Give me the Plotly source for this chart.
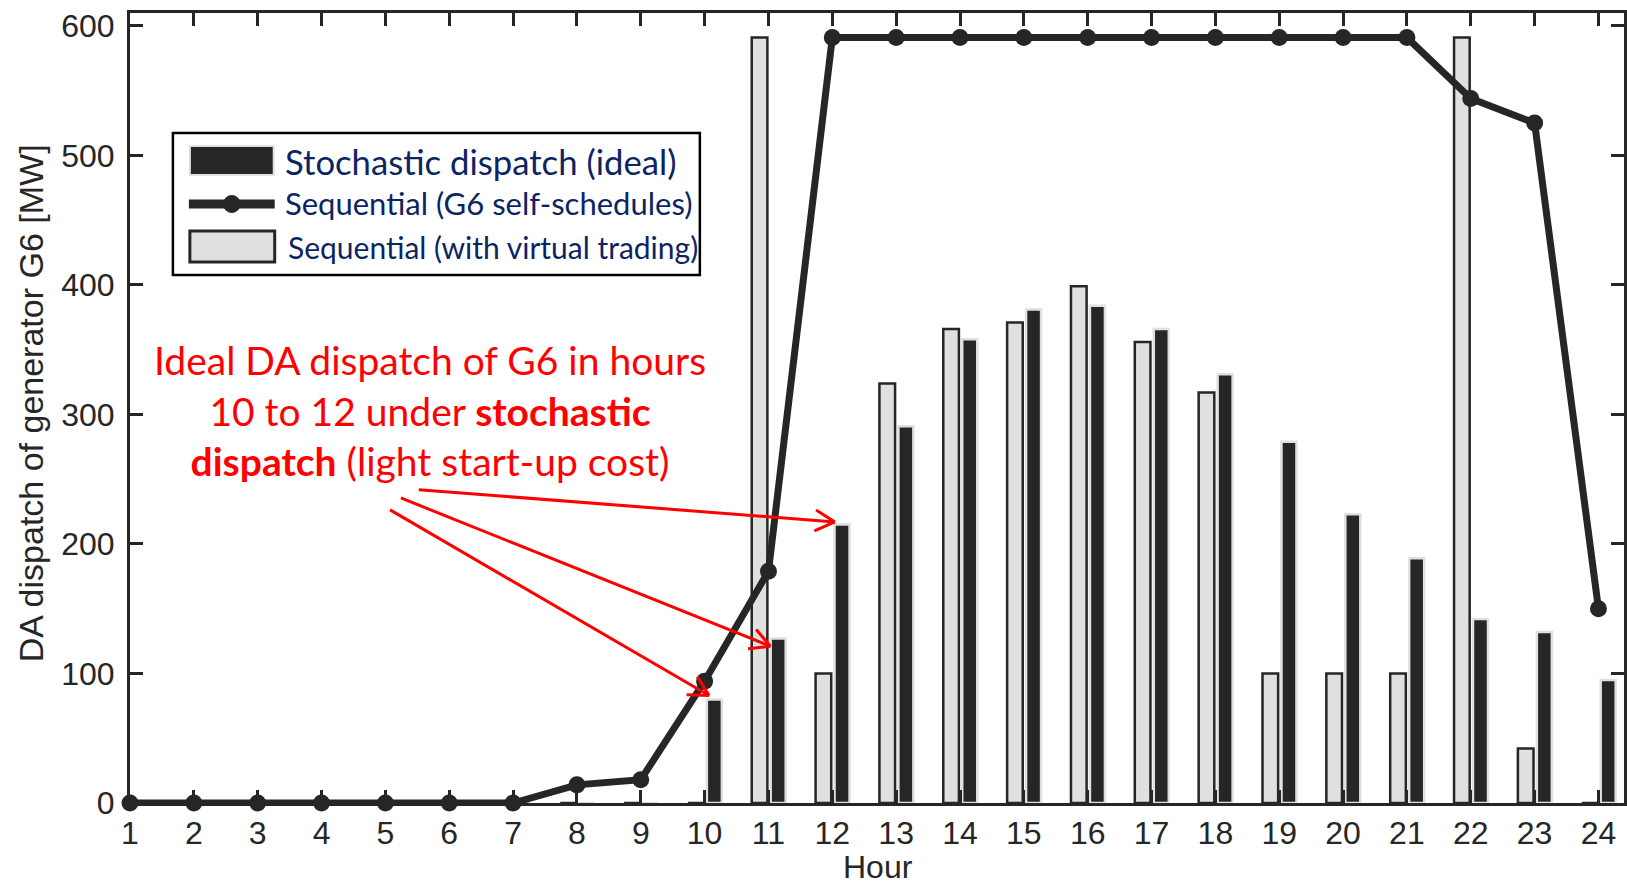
import math
import plotly.graph_objects as go

# ---------------- data ----------------
hours = list(range(1, 25))
stochastic_ideal = [0, 0, 0, 0, 0, 0, 0, 0, 0, 80, 127, 215, 291, 358, 381, 384, 366, 331, 279, 223, 189, 142, 132, 95]
seq_self_sched = [0, 0, 0, 0, 0, 0, 0, 14, 18, 94, 179, 591, 591, 591, 591, 591, 591, 591, 591, 591, 591, 544, 525, 150]
seq_virtual = [0, 0, 0, 0, 0, 0, 0, 0, 0, 0, 591, 100, 324, 366, 371, 399, 356, 317, 100, 100, 100, 591, 42, 0]
y_ticks = [0, 100, 200, 300, 400, 500, 600]

legend_labels = ["Stochastic dispatch (ideal)", "Sequential (G6 self-schedules)", "Sequential (with virtual trading)"]
note_text = "Ideal DA dispatch of G6 in hours<br>10 to 12 under <b>stochastic</b><br><b>dispatch</b> (light start-up cost)"
# arrow (start hour, start MW) -> (tip hour, tip MW)
arrows = [((5.50, 242), (12.04, 217)), ((5.22, 236), (11.03, 121)), ((5.05, 227), (10.07, 83))]

# ---------------- layout geometry ----------------
FW, FH = 1627, 885
L, R, T, B = 130, 0, 13, 82
W = FW - L - R
H = FH - T - B
XR = [1, 24.4]
YR = [0, 610]
DARK = "#262626"
LIGHT = "#e0e0e0"
NAVY = "#0d2463"

def px_x(px):
    return (px - L) / W

def px_y(py):
    return (T + H - py) / H

ppx = W / (XR[1] - XR[0])
ppy = H / (YR[1] - YR[0])

fig = go.Figure()

fig.add_trace(go.Scatter(
    x=hours, y=seq_self_sched, mode="lines+markers",
    line=dict(color=DARK, width=7), marker=dict(color=DARK, size=17),
    cliponaxis=False, showlegend=False, name=legend_labels[1]))

fig.add_trace(go.Bar(
    x=hours, y=seq_virtual, offset=-0.262, width=0.245,
    marker=dict(color=LIGHT, line=dict(color=DARK, width=2.5)),
    showlegend=False, name=legend_labels[2]))

fig.add_trace(go.Bar(
    x=hours, y=stochastic_ideal, offset=0.035, width=0.235,
    marker=dict(color=DARK, line=dict(color=LIGHT, width=2.5)),
    showlegend=False, name=legend_labels[0]))

axis_common = dict(showline=True, linewidth=3, linecolor=DARK, mirror="ticks",
                   ticks="inside", ticklen=13, tickwidth=3, tickcolor=DARK,
                   showgrid=False, zeroline=False,
                   tickfont=dict(family="Liberation Sans", size=32, color=DARK))

fig.update_layout(
    width=FW, height=FH,
    margin=dict(l=L, r=R, t=T, b=B),
    paper_bgcolor="white", plot_bgcolor="white",
    barmode="overlay",
    xaxis=dict(range=XR, tickmode="array", tickvals=hours, ticktext=[str(h) for h in hours],
               ticklabelstandoff=0, **axis_common),
    yaxis=dict(range=YR, tickmode="array", tickvals=y_ticks, ticktext=[str(v) for v in y_ticks],
               ticklabelstandoff=6, **axis_common),
)

# axis titles
fig.add_annotation(text="Hour", xref="paper", yref="paper", x=px_x(880), y=px_y(867),
                   showarrow=False, font=dict(family="Liberation Sans", size=32, color=DARK),
                   xanchor="center", yanchor="middle")
fig.add_annotation(text="DA dispatch of generator G6 [MW]", xref="paper", yref="paper",
                   x=px_x(31), y=px_y(403), textangle=-90, showarrow=False,
                   font=dict(family="Liberation Sans", size=34, color=DARK),
                   xanchor="center", yanchor="middle")

# red note
fig.add_annotation(text=note_text, xref="paper", yref="paper", x=px_x(431), y=px_y(410),
                   showarrow=False, align="center", xanchor="center", yanchor="middle",
                   font=dict(family="Lato", size=39, color="#ff0000"))

# arrows
for (sx, sy), (tx, ty) in arrows:
    fig.add_annotation(x=tx, y=ty, ax=sx, ay=sy, xref="x", yref="y", axref="x", ayref="y",
                       text="", showarrow=True, arrowhead=0, arrowwidth=3, arrowcolor="#ff0000",
                       standoff=0, startstandoff=0)
    dx = (sx - tx) * ppx
    dy = -(sy - ty) * ppy
    n = math.hypot(dx, dy)
    ux, uy = dx / n, dy / n
    for ang in (28, -28):
        a = math.radians(ang)
        wx = ux * math.cos(a) - uy * math.sin(a)
        wy = ux * math.sin(a) + uy * math.cos(a)
        fig.add_annotation(x=tx, y=ty, ax=wx * 24, ay=wy * 24, xref="x", yref="y",
                           text="", showarrow=True, arrowhead=0, arrowwidth=3,
                           arrowcolor="#ff0000", standoff=0, startstandoff=0)

# custom legend
shapes = []
shapes.append(dict(type="rect", xref="paper", yref="paper", x0=px_x(173), x1=px_x(701),
                   y0=px_y(275), y1=px_y(133), line=dict(color="black", width=2.5), fillcolor="white",
                   layer="above"))
shapes.append(dict(type="rect", xref="paper", yref="paper", x0=px_x(190), x1=px_x(274),
                   y0=px_y(175), y1=px_y(146), line=dict(color=LIGHT, width=2), fillcolor=DARK,
                   layer="above"))
shapes.append(dict(type="line", xref="paper", yref="paper", x0=px_x(189), x1=px_x(275),
                   y0=px_y(204), y1=px_y(204), line=dict(color=DARK, width=9), layer="above"))
shapes.append(dict(type="circle", xref="paper", yref="paper", x0=px_x(223.5), x1=px_x(240.5),
                   y0=px_y(212.5), y1=px_y(195.5), line=dict(color=DARK, width=1), fillcolor=DARK,
                   layer="above"))
shapes.append(dict(type="rect", xref="paper", yref="paper", x0=px_x(190), x1=px_x(275),
                   y0=px_y(262), y1=px_y(231), line=dict(color=DARK, width=3), fillcolor=LIGHT,
                   layer="above"))
fig.update_layout(shapes=shapes)

for lab, px, py, sz in [(legend_labels[0], 283, 161, 34.7), (legend_labels[1], 283, 203, 31),
                        (legend_labels[2], 286, 247, 30)]:
    fig.add_annotation(text=lab, xref="paper", yref="paper", x=px_x(px), y=px_y(py),
                       showarrow=False, xanchor="left", yanchor="middle",
                       font=dict(family="Lato", size=sz, color=NAVY))

fig.write_html("out.html")
